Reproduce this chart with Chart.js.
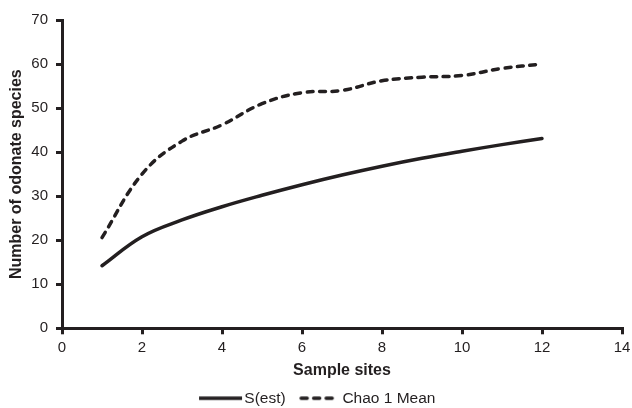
<!DOCTYPE html>
<html>
<head>
<meta charset="utf-8">
<script src="https://cdn.jsdelivr.net/npm/chart.js@4.4.0/dist/chart.umd.min.js"></script>
<style>
  html, body { margin: 0; padding: 0; background: #fff; }
  #wrap { width: 632px; height: 408px; }
</style>
</head>
<body>
<div id="wrap"><canvas id="chart"></canvas></div>
<script>
const sites = [1, 2, 3, 4, 5, 6, 7, 8, 9, 10, 11, 12];
const sEst = [14.2, 20.8, 24.6, 27.6, 30.2, 32.6, 34.8, 36.8, 38.6, 40.2, 41.7, 43.1];
const chao1 = [20.6, 35.0, 42.5, 46.2, 51.0, 53.5, 54.0, 56.2, 57.0, 57.4, 59.0, 60.0];
const xTicks = [0, 2, 4, 6, 8, 10, 12, 14];
const yTicks = [0, 10, 20, 30, 40, 50, 60, 70];

const ink = '#231f20';
const lineW = 3.5;
const dash = [6, 6.5];

// legend sample: a short line drawn into a small canvas, used as the point style
function legendSample(dashed) {
  const c = document.createElement('canvas');
  c.width = 60;
  c.height = 8;
  const g = c.getContext('2d');
  g.strokeStyle = ink;
  g.lineWidth = lineW;
  g.lineCap = dashed ? 'round' : 'butt';
  if (dashed) g.setLineDash(dash);
  g.beginPath();
  g.moveTo(dashed ? 18 : 14, 4);
  g.lineTo(dashed ? 52.5 : 57, 4);
  g.stroke();
  return c;
}

const ctx = document.getElementById('chart').getContext('2d');
new Chart(ctx, {
  type: 'line',
  data: {
    datasets: [
      {
        label: 'S(est)',
        data: sites.map((x, i) => ({ x: x, y: sEst[i] })),
        borderColor: ink,
        backgroundColor: ink,
        borderWidth: lineW,
        pointRadius: 0,
        tension: 0.4,
        borderCapStyle: 'round'
      },
      {
        label: 'Chao 1 Mean',
        data: sites.map((x, i) => ({ x: x, y: chao1[i] })),
        borderColor: ink,
        backgroundColor: ink,
        borderWidth: lineW,
        borderDash: dash,
        pointRadius: 0,
        tension: 0.4,
        borderCapStyle: 'round'
      }
    ]
  },
  options: {
    responsive: true,
    maintainAspectRatio: false,
    animation: false,
    layout: { padding: { left: 7, right: 10, top: 20, bottom: -8 } },
    scales: {
      x: {
        type: 'linear',
        min: 0,
        max: 14,
        afterBuildTicks: axis => { axis.ticks = xTicks.map(v => ({ value: v })); },
        afterFit: axis => { axis.height -= 5; axis.paddingRight = 0; },
        border: { color: ink, width: 3 },
        grid: { drawOnChartArea: false, color: ink, lineWidth: 3, tickLength: 6 },
        ticks: { color: ink, font: { family: 'Liberation Sans', size: 15 }, padding: 5, maxRotation: 0 },
        title: { display: true, text: 'Sample sites', color: ink, font: { family: 'Liberation Sans', size: 16, weight: 'bold' }, padding: { top: 4, bottom: 4 } }
      },
      y: {
        min: 0,
        max: 70,
        afterBuildTicks: axis => { axis.ticks = yTicks.map(v => ({ value: v })); },
        afterFit: axis => { axis.width = 55; },
        border: { color: ink, width: 3 },
        grid: { drawOnChartArea: false, color: ink, lineWidth: 3, tickLength: 6 },
        ticks: { color: ink, font: { family: 'Liberation Sans', size: 15 }, padding: 8 },
        title: { display: true, text: 'Number of odonate species', color: ink, font: { family: 'Liberation Sans', size: 16, weight: 'bold' }, padding: { top: 0, bottom: 5 } }
      }
    },
    plugins: {
      legend: {
        display: true,
        position: 'bottom',
        labels: {
          color: ink,
          font: { family: 'Liberation Sans', size: 15.5 },
          usePointStyle: true,
          pointStyleWidth: 43,
          padding: 6,
          generateLabels: chart => chart.data.datasets.map((ds, i) => ({
            text: ds.label,
            fontColor: ink,
            fillStyle: ink,
            strokeStyle: ink,
            lineWidth: 0,
            pointStyle: legendSample(!!ds.borderDash),
            datasetIndex: i,
            hidden: !chart.isDatasetVisible(i)
          }))
        }
      },
      tooltip: { enabled: false }
    }
  }
});
</script>
</body>
</html>
